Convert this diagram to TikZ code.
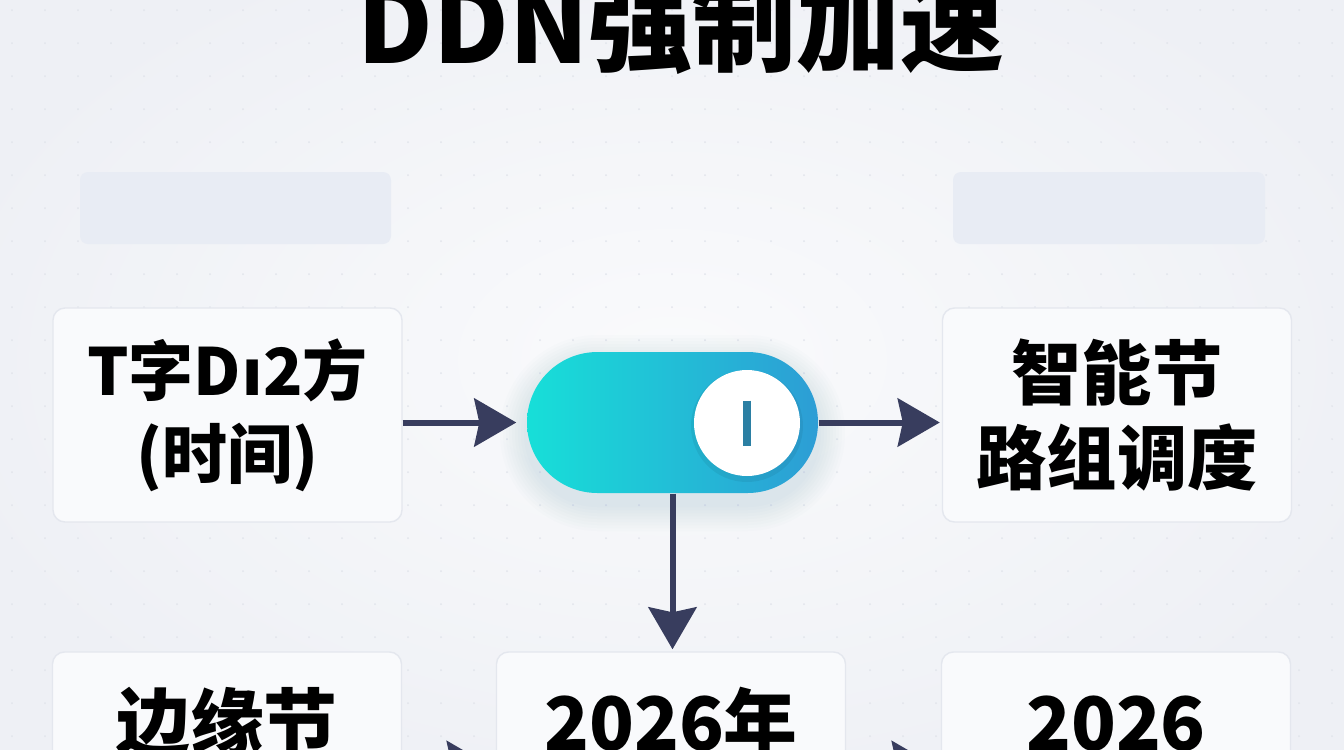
\documentclass[tikz,border=0pt]{standalone}
\usepackage{fontspec}
\setmainfont{Noto Sans CJK SC}
\newfontfamily\latinfont{DejaVu Sans}
\usetikzlibrary{arrows.meta,shapes.misc,positioning}
\definecolor{bgcol}{HTML}{EEF0F5}
\definecolor{boxfill}{HTML}{F9FAFC}
\definecolor{boxline}{HTML}{E4E7EE}
\definecolor{barfill}{HTML}{E8ECF4}
\definecolor{dotcol}{HTML}{E1E4EB}
\definecolor{arrowcol}{HTML}{383D5E}
\definecolor{swleft}{HTML}{17DFD8}
\definecolor{swright}{HTML}{2D9DD5}
\definecolor{knobbar}{HTML}{2B7FA3}
\definecolor{glow}{HTML}{7FA9C4}
\begin{document}
\begin{tikzpicture}[
    box/.style={draw=boxline, fill=boxfill, rounded corners=0.12cm, minimum width=3.49cm, minimum height=2.14cm, inner sep=0pt, align=center},
    lowbox/.style={box, minimum height=2.26cm},
    flow/.style={->, >={Stealth[length=0.42cm,width=0.48cm,inset=0.05cm]}, line width=0.06cm, draw=arrowcol},
    midtext/.style={font=\bfseries\fontsize{18.5pt}{23.6pt}\selectfont},
    bigtext/.style={font=\bfseries\fontsize{20pt}{24.2pt}\selectfont},
    lowtext/.style={font=\bfseries\fontsize{21pt}{25pt}\selectfont, anchor=base}
  ]
    \useasboundingbox (0,0) rectangle (13.44,-7.5);
    \clip (0,0) rectangle (13.44,-7.5);
    % background
    \fill[bgcol] (0,0) rectangle (13.44,-7.5);
    \shade[inner color=white!70!bgcol, outer color=bgcol] (6.72,-3.6) ellipse (7.5 and 4.6);
    \foreach \x in {0,...,40}
      \foreach \y in {0,...,22}
        \fill[dotcol] (\x*0.33+0.12,-\y*0.33-0.1) circle (0.01);
    % title
    \node[anchor=base, font=\bfseries\fontsize{29.6pt}{32pt}\selectfont] (title) at (6.81,-0.63) {DDN强制加速};
    % blank bars
    \fill[barfill, rounded corners=0.08cm] (0.80,-1.72) rectangle (3.91,-2.44);
    \fill[barfill, rounded corners=0.08cm] (9.53,-1.72) rectangle (12.65,-2.44);
    % boxes
    \node[box, midtext] (time) at (2.275,-4.15) {T字D{\latinfont\bfseries ı}2方\\(时间)};
    \node[box, bigtext] (sched) at (11.17,-4.15) {智能节\\路组调度};
    \node[lowbox] (edge) at (2.27,-7.65) {};
    \node[lowbox] (year) at (6.71,-7.65) {};
    \node[lowbox] (next) at (11.16,-7.65) {};
    \node[lowtext] (edgeT) at ([yshift=-0.99cm]edge.north) {边缘节};
    \node[lowtext] (yearT) at ([yshift=-0.99cm]year.north) {2026年};
    \node[lowtext] (nextT) at ([yshift=-0.99cm]next.north) {2026};
    % soft glow under the switch
    \foreach \s [evaluate=\s as \rr using 0.705+\s] in {0.03,0.06,...,0.27}
      \fill[glow, opacity=0.025, rounded corners=\rr cm] (5.27-\s,-5.04-\s) rectangle (8.18+\s,-3.62+\s);
    % switch
    \node[rounded rectangle, minimum width=2.91cm, minimum height=1.41cm, inner sep=0pt, left color=swleft, right color=swright] (switch) at (6.725,-4.225) {};
    \fill[black, opacity=0.06] (7.47,-4.26) circle (0.56);
    \node[circle, fill=white, minimum size=1.06cm, inner sep=0pt] (knob) at (7.47,-4.23) {};
    \draw[line width=0.085cm, knobbar] ([yshift=0.225cm]knob.center) -- ([yshift=-0.225cm]knob.center);
    % arrows
    \draw[flow, shorten >=0.1cm] (switch.west -| time.east) -- (switch.west);
    \draw[flow, shorten >=0.02cm] (switch.east) -- (switch.east -| sched.west);
    \draw[flow, shorten >=0.02cm] (switch.south) -- (switch.south |- year.north);
    \draw[flow, shorten >=0.07cm] (edge) -- (year);
    \draw[flow, shorten >=0.07cm] (year) -- (next);
  \end{tikzpicture}
\end{document}
